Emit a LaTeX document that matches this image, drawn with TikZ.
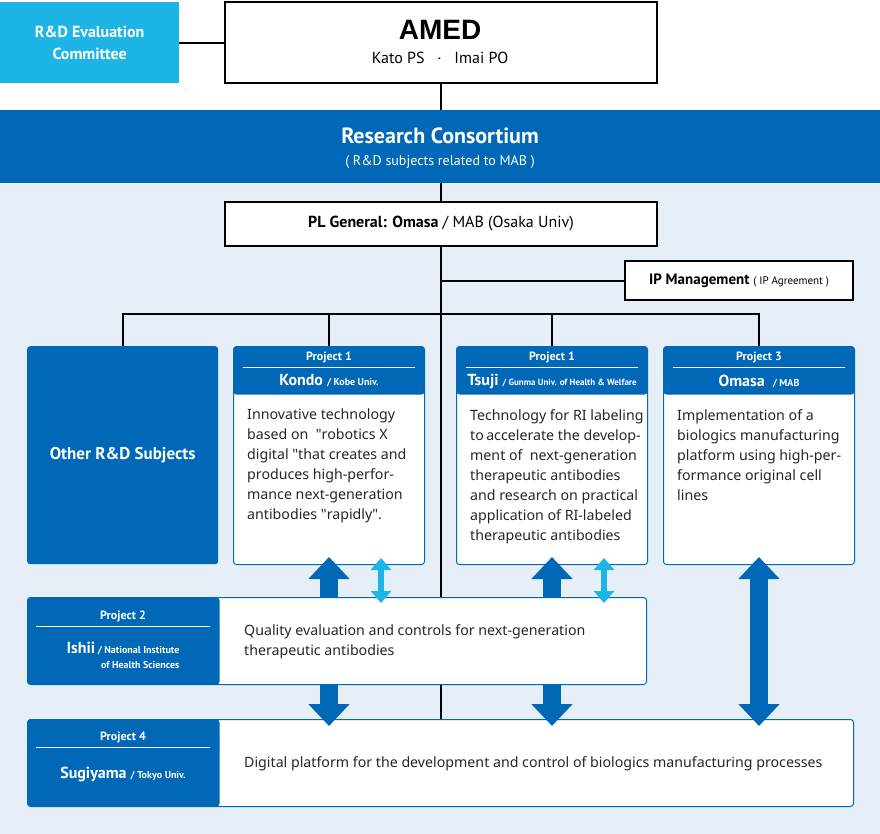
\documentclass[tikz,border=0pt]{standalone}
\usepackage{fontspec}
\setmainfont{Noto Sans}
\newfontfamily\hd{PT Sans}
\newfontfamily\am{Liberation Sans}
\usetikzlibrary{arrows.meta}
\definecolor{dblue}{HTML}{0068B7}
\definecolor{lblue}{HTML}{1DB4E6}
\definecolor{pale}{HTML}{E6EFF8}
\pgfdeclarelayer{back}
\pgfdeclarelayer{lines}
\pgfsetlayers{back,lines,main}
\newcommand\sz[2]{\fontsize{#1}{#2}\selectfont}
\newcommand\qq{\textquotedbl}

\begin{document}
\begin{tikzpicture}[x=1pt, y=-1pt]
        \tikzstyle{every node}=[inner sep=0pt]
        \tikzstyle{blk}=[draw, line width=2pt, fill=white, anchor=north west]
        \tikzstyle{card}=[draw=dblue, line width=1pt, fill=white, rounded corners=3pt, anchor=north west, minimum width=191pt, minimum height=218pt, path picture={\fill[dblue] (path picture bounding box.north west) rectangle ([yshift=-48pt]path picture bounding box.north east);}]
        \tikzstyle{wide}=[draw=dblue, line width=1pt, fill=white, rounded corners=3pt, anchor=north west, minimum height=87pt, path picture={\fill[dblue] (path picture bounding box.north west) rectangle ([xshift=192pt]path picture bounding box.south west);}]
        \tikzstyle{hd}=[text=white, font=\hd]
        \tikzstyle{body}=[anchor=north west, align=left, font=\sz{14.2}{20}, text=black!85]
        \tikzstyle{rule}=[white, line width=1pt]
        \tikzstyle{wire}=[line width=2pt]
        \tikzstyle{bigup}=[dblue, line width=18pt, -{Triangle[width=40pt,length=22pt]}]
        \tikzstyle{bigboth}=[dblue, line width=18pt, {Triangle[width=40pt,length=22pt]}-{Triangle[width=40pt,length=22pt]}]
        \tikzstyle{liteboth}=[lblue, line width=6pt, {Triangle[width=20pt,length=12pt]}-{Triangle[width=20pt,length=12pt]}]
        \useasboundingbox (0,0) rectangle (880,834);
        \begin{pgfonlayer}{back}
            \fill[white] (0,0) rectangle (880,110);
            \fill[pale] (0,110) rectangle (880,834);
        \end{pgfonlayer}
        % top
        \node[fill=lblue, minimum width=179pt, minimum height=81pt, anchor=north west, hd, align=center, font=\hd\bfseries\sz{16}{22}] (committee) at (0,2) {R\&D Evaluation\\Committee};
        \node[blk, minimum width=432pt, minimum height=81pt] (amed) at (224,1) {};
        \node[font=\am\bfseries\sz{28}{28}] (amedname) at (440,30) {AMED};
        \node[font=\hd\sz{16}{16}] (amedpo) at (440,58) {Kato PS \ \ · \ \ Imai PO};
        \node[fill=dblue, minimum width=880pt, minimum height=73pt, anchor=north west] (band) at (0,110) {};
        \node[hd, font=\hd\bfseries\sz{22}{22}] (rc) at (440,136) {Research Consortium};
        \node[hd, font=\hd\sz{14}{14}] (rcsub) at (440,162) {( R\&D subjects related to MAB )};
        \node[blk, minimum width=432pt, minimum height=44pt, font=\hd\sz{16}{16}] (pl) at (224,201) {\bfseries PL General: Omasa \mdseries/ MAB (Osaka Univ)};
        \node[blk, minimum width=228pt, minimum height=39pt, font=\hd\sz{15}{15}] (ip) at (624,260) {\bfseries IP Management {\mdseries\sz{11}{11}( IP Agreement )}};
        % projects
        \node[fill=dblue, rounded corners=3pt, minimum width=191pt, minimum height=218pt, anchor=north west, hd, font=\hd\bfseries\sz{17}{17}] (other) at (27,346) {Other R\&D Subjects};
        \node[card] (kondo) at (233,346) {};
        \node[hd, font=\hd\bfseries\sz{12}{12}] (kondoproj) at ([yshift=-11pt]kondo.north) {Project 1};
        \draw[rule] ([xshift=10pt,yshift=-21pt]kondo.north west) -- ([xshift=-10pt,yshift=-21pt]kondo.north east);
        \node[hd, font=\hd\bfseries\sz{16}{16}] (kondoname) at ([yshift=-35pt]kondo.north) {Kondo {\sz{10}{10}/ Kobe Univ.}};
        \node[body] (kondotext) at ([xshift=14pt,yshift=-63pt]kondo.north west) {Innovative technology\\based on \ \qq robotics X\\digital \qq that creates and\\produces high-perfor-\\mance next-generation\\antibodies \qq rapidly\qq.};
        \node[card] (tsuji) at (456,346) {};
        \node[hd, font=\hd\bfseries\sz{12}{12}] (tsujiproj) at ([yshift=-11pt]tsuji.north) {Project 1};
        \draw[rule] ([xshift=10pt,yshift=-21pt]tsuji.north west) -- ([xshift=-10pt,yshift=-21pt]tsuji.north east);
        \node[hd, font=\hd\bfseries\sz{16}{16}] (tsujiname) at ([yshift=-35pt]tsuji.north) {Tsuji {\sz{9}{9}/ Gunma Univ. of Health \& Welfare}};
        \node[body] (tsujitext) at ([xshift=14pt,yshift=-63pt]tsuji.north west) {Technology for RI labeling\\to\,accelerate the develop-\\ment of \ next-generation\\therapeutic antibodies\\and research on practical\\application of RI-labeled\\therapeutic antibodies};
        \node[card] (omasa) at (663,346) {};
        \node[hd, font=\hd\bfseries\sz{12}{12}] (omasaproj) at ([yshift=-11pt]omasa.north) {Project 3};
        \draw[rule] ([xshift=10pt,yshift=-21pt]omasa.north west) -- ([xshift=-10pt,yshift=-21pt]omasa.north east);
        \node[hd, font=\hd\bfseries\sz{16}{16}] (omasaname) at ([yshift=-35pt]omasa.north) {Omasa \ {\sz{10}{10}/ MAB}};
        \node[body] (omasatext) at ([xshift=14pt,yshift=-63pt]omasa.north west) {Implementation of a\\biologics manufacturing\\platform using high-per-\\formance original cell\\lines};
        \node[wide, minimum width=619pt] (ishii) at (27,597) {};
        \node[hd, font=\hd\bfseries\sz{12}{12}] (ishiiproj) at ([xshift=96pt,yshift=-19pt]ishii.north west) {Project 2};
        \draw[rule] ([xshift=9pt,yshift=-29pt]ishii.north west) -- ([xshift=183pt,yshift=-29pt]ishii.north west);
        \node[hd, align=right, font=\hd\bfseries\sz{10}{15}] (ishiiname) at ([xshift=96pt,yshift=-58pt]ishii.north west) {{\sz{16}{16}Ishii} / National Institute\\of Health Sciences};
        \node[body, anchor=west] (ishiitext) at ([xshift=217pt,yshift=-1pt]ishii.west) {Quality evaluation and controls for next-generation\\therapeutic antibodies};
        \node[wide, minimum width=826pt] (sugi) at (27,719) {};
        \node[hd, font=\hd\bfseries\sz{12}{12}] (sugiproj) at ([xshift=96pt,yshift=-18pt]sugi.north west) {Project 4};
        \draw[rule] ([xshift=9pt,yshift=-28pt]sugi.north west) -- ([xshift=183pt,yshift=-28pt]sugi.north west);
        \node[hd, font=\hd\bfseries\sz{16}{16}] (suginame) at ([xshift=96pt,yshift=-55pt]sugi.north west) {Sugiyama {\sz{10}{10}/ Tokyo Univ.}};
        \node[body, anchor=west] (sugitext) at ([xshift=217pt,yshift=-1pt]sugi.west) {Digital platform for the development and control of biologics manufacturing processes};
        % wires
        \begin{pgfonlayer}{lines}
            \draw[wire] (committee.east) -- (committee.east -| amed.west);
            \draw[wire] (amed.south) -- (pl.north);
            \draw[wire] (pl.south) -- (pl.south |- sugi.north);
            \draw[wire] (ip.west) -- (ip.west -| pl.south);
            \draw[wire] (other.north) -- ++(0,-32) -| (omasa.north);
            \draw[wire] (kondo.north) -- ++(0,-32);
            \draw[wire] (tsuji.north) -- ++(0,-32);
        \end{pgfonlayer}
        % arrows
        \draw[bigup] (kondo.south |- ishii.north) -- ([yshift=8pt]kondo.south);
        \draw[bigup] (tsuji.south |- ishii.north) -- ([yshift=8pt]tsuji.south);
        \draw[liteboth] ([xshift=52pt,yshift=7pt]kondo.south) -- ([xshift=52pt,yshift=-6pt]kondo.south |- ishii.north);
        \draw[liteboth] ([xshift=52pt,yshift=7pt]tsuji.south) -- ([xshift=52pt,yshift=-6pt]tsuji.south |- ishii.north);
        \draw[bigup] (kondo.south |- ishii.south) -- ([yshift=-7pt]kondo.south |- sugi.north);
        \draw[bigup] (tsuji.south |- ishii.south) -- ([yshift=-7pt]tsuji.south |- sugi.north);
        \draw[bigboth] ([yshift=8pt]omasa.south) -- ([yshift=-7pt]omasa.south |- sugi.north);
\end{tikzpicture}
\end{document}
